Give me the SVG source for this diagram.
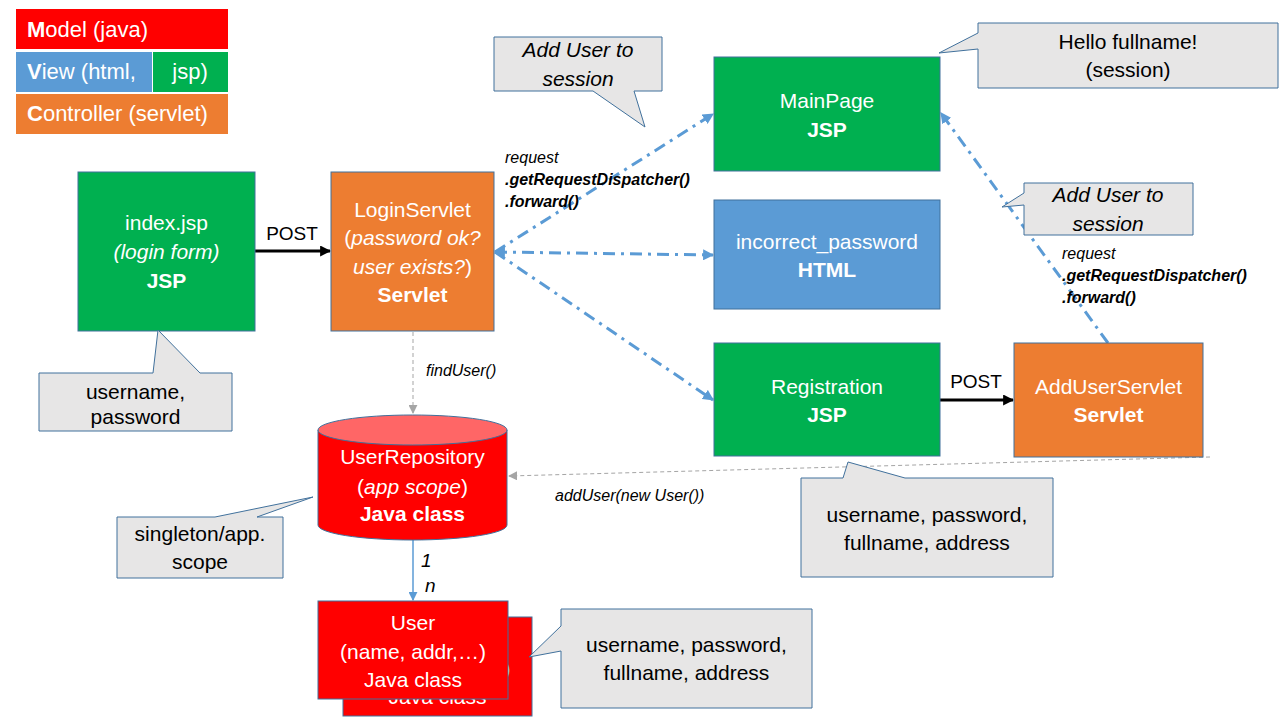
<svg xmlns="http://www.w3.org/2000/svg" width="1280" height="720" viewBox="0 0 1280 720">
<defs>
<style>
text{font-family:"Liberation Sans",Arial,sans-serif;}
.w{fill:#fff;font-size:21px;text-anchor:middle;}
.lg{fill:#fff;font-size:22px;}
.k{fill:#000;font-size:21px;text-anchor:middle;}
.s{fill:#000;font-size:16px;font-style:italic;}
.m{fill:#000;font-size:19px;font-style:italic;}
.b{font-weight:bold;}
.i{font-style:italic;}
.node{stroke:#41719C;stroke-width:1;}
.green{fill:#00B050;}
.orange{fill:#ED7D31;}
.blue{fill:#5B9BD5;}
.red{fill:#FF0000;}
.call{fill:#E7E6E6;stroke:#41719C;stroke-width:1;}
.dd{fill:none;stroke:#5B9BD5;stroke-width:3;stroke-dasharray:12 6 3 6;}
.gd{fill:none;stroke:#A5A5A5;stroke-width:1;stroke-dasharray:4 3;}
.post{fill:none;stroke:#000;stroke-width:3;}
</style>
<marker id="ab" viewBox="0 0 10 10" refX="9" refY="5" markerUnits="userSpaceOnUse" markerWidth="11" markerHeight="11" orient="auto-start-reverse"><path d="M0,0 L10,5 L0,10 Z" fill="#5B9BD5"/></marker>
<marker id="ag" viewBox="0 0 10 10" refX="9" refY="5" markerUnits="userSpaceOnUse" markerWidth="9" markerHeight="9" orient="auto"><path d="M0,0 L10,5 L0,10 Z" fill="#A5A5A5"/></marker>
<marker id="ak" viewBox="0 0 10 10" refX="9" refY="5" markerUnits="userSpaceOnUse" markerWidth="11" markerHeight="11" orient="auto"><path d="M0,0 L10,5 L0,10 Z" fill="#000"/></marker>
<marker id="al" viewBox="0 0 10 10" refX="9" refY="5" markerUnits="userSpaceOnUse" markerWidth="9" markerHeight="9" orient="auto"><path d="M0,0 L10,5 L0,10 Z" fill="#5B9BD5"/></marker>
<clipPath id="backclip"><path d="M343,617 H532 V716 H343 Z M508,601 H318 V699 H508 Z" clip-rule="evenodd"/></clipPath>
</defs>
<rect width="1280" height="720" fill="#fff"/>

<g id="legend">
<rect x="16" y="9" width="212" height="40" class="red"/>
<text x="27" y="37" class="lg"><tspan class="b">M</tspan>odel (java)</text>
<rect x="16" y="52" width="136" height="40" class="blue"/>
<rect x="153" y="52" width="75" height="40" class="green"/>
<text x="27" y="79" class="lg"><tspan class="b">V</tspan>iew (html,</text>
<text x="190" y="79" class="lg" text-anchor="middle">jsp)</text>
<rect x="16" y="94" width="212" height="40" class="orange"/>
<text x="27" y="121" class="lg"><tspan class="b">C</tspan>ontroller (servlet)</text>
</g>

<g id="connectors">
<line x1="255" y1="251" x2="330" y2="251" class="post" marker-end="url(#ak)"/>
<text x="292" y="240" font-size="19" text-anchor="middle" fill="#000">POST</text>
<line x1="940" y1="400" x2="1013" y2="400" class="post" marker-end="url(#ak)"/>
<text x="976" y="388" font-size="19" text-anchor="middle" fill="#000">POST</text>
<line x1="495" y1="252" x2="713" y2="114" class="dd" marker-end="url(#ab)"/>
<line x1="495" y1="252" x2="713" y2="255" class="dd" marker-start="url(#ab)" marker-end="url(#ab)"/>
<line x1="495" y1="252" x2="713" y2="400" class="dd" marker-end="url(#ab)"/>
<line x1="1108" y1="343" x2="941" y2="113" class="dd" marker-end="url(#ab)"/>
<line x1="413" y1="332" x2="413" y2="413" class="gd" marker-end="url(#ag)"/>
<text x="426" y="376" class="s">findUser()</text>
<line x1="1210" y1="457" x2="509" y2="476" class="gd" marker-end="url(#ag)"/>
<text x="555" y="501" class="s">addUser(new User())</text>
<line x1="413" y1="540" x2="413" y2="600" stroke="#5B9BD5" stroke-width="1.5" marker-end="url(#al)"/>
<text x="421" y="567" class="m">1</text>
<text x="425" y="592" class="m">n</text>
<text x="505" y="163" class="s">request</text>
<text x="505" y="185" class="s b">.getRequestDispatcher()</text>
<text x="505" y="207" class="s b">.forward()</text>
<text x="1062" y="259" class="s">request</text>
<text x="1062" y="281" class="s b">.getRequestDispatcher()</text>
<text x="1062" y="303" class="s b">.forward()</text>
</g>

<g id="index">
<rect x="78" y="172" width="177" height="159" class="node green"/>
<text x="166.5" y="230" class="w">index.jsp</text>
<text x="166.5" y="259" class="w i">(login form)</text>
<text x="166.5" y="288" class="w b">JSP</text>
</g>

<g id="loginservlet">
<rect x="331" y="172" width="163" height="159" class="node orange"/>
<text x="412.5" y="217" class="w">LoginServlet</text>
<text x="412.5" y="245" class="w">(<tspan class="i">password ok?</tspan></text>
<text x="412.5" y="274" class="w"><tspan class="i">user exists?</tspan>)</text>
<text x="412.5" y="302" class="w b">Servlet</text>
</g>

<g id="mainpage">
<rect x="714" y="57" width="226" height="114" class="node green"/>
<text x="827" y="108" class="w">MainPage</text>
<text x="827" y="137" class="w b">JSP</text>
</g>

<g id="incorrect">
<rect x="714" y="200" width="226" height="109" class="node blue"/>
<text x="827" y="249" class="w">incorrect_password</text>
<text x="827" y="277" class="w b">HTML</text>
</g>

<g id="registration">
<rect x="714" y="343" width="226" height="113" class="node green"/>
<text x="827" y="394" class="w">Registration</text>
<text x="827" y="422" class="w b">JSP</text>
</g>

<g id="adduserservlet">
<rect x="1014" y="343" width="189" height="114" class="node orange"/>
<text x="1108.5" y="394" class="w">AddUserServlet</text>
<text x="1108.5" y="422" class="w b">Servlet</text>
</g>

<g id="userrepository">
<path d="M318,430 L318,525 A94.5,15 0 0 0 507,525 L507,430 Z" class="node red"/>
<ellipse cx="412.5" cy="430" rx="94.5" ry="15" class="node" fill="#FF6666"/>
<text x="412.5" y="464" class="w">UserRepository</text>
<text x="412.5" y="494" class="w">(<tspan class="i">app scope</tspan>)</text>
<text x="412.5" y="521" class="w b">Java class</text>
</g>

<g id="user">
<rect x="343" y="617" width="189" height="99" class="node red"/>
<g clip-path="url(#backclip)">
<text x="437.5" y="676" class="w">(name, addr,…)</text>
<text x="437.5" y="704" class="w">Java class</text>
</g>
<rect x="318" y="601" width="190" height="98" class="node red"/>
<text x="413" y="630" class="w">User</text>
<text x="413" y="659" class="w">(name, addr,…)</text>
<text x="413" y="687" class="w">Java class</text>
</g>

<g id="callout-add-session-1">
<path d="M494,37 H662 V91 H634 L645,127 L593,91 H494 Z" class="call"/>
<text x="578" y="57" class="k i">Add User to</text>
<text x="578" y="86" class="k i">session</text>
</g>

<g id="callout-hello">
<path d="M978,23 H1278 V88 H978 V49 L939,53 L978,33 Z" class="call"/>
<text x="1128" y="49" class="k">Hello fullname!</text>
<text x="1128" y="77" class="k">(session)</text>
</g>

<g id="callout-add-session-2">
<path d="M1024,183 H1193 V235 H1024 V205 L1002,207 L1024,193 Z" class="call"/>
<text x="1108" y="202" class="k i">Add User to</text>
<text x="1108" y="231" class="k i">session</text>
</g>

<g id="callout-login">
<path d="M39,373 H153 L158,330 L200,373 H232 V431 H39 Z" class="call"/>
<text x="135.5" y="399" class="k">username,</text>
<text x="135.5" y="424" class="k">password</text>
</g>

<g id="callout-singleton">
<path d="M117,517 H215 L313,497 L257,517 H283 V578 H117 Z" class="call"/>
<text x="200" y="541" class="k">singleton/app.</text>
<text x="200" y="569" class="k">scope</text>
</g>

<g id="callout-registration">
<path d="M801,478 H843 L848,462 L905,478 H1053 V577 H801 Z" class="call"/>
<text x="927" y="522" class="k">username, password,</text>
<text x="927" y="550" class="k">fullname, address</text>
</g>

<g id="callout-user">
<path d="M561,609 H812 V708 H561 V651 L529,657 L561,626 Z" class="call"/>
<text x="686.5" y="652" class="k">username, password,</text>
<text x="686.5" y="680" class="k">fullname, address</text>
</g>
</svg>
